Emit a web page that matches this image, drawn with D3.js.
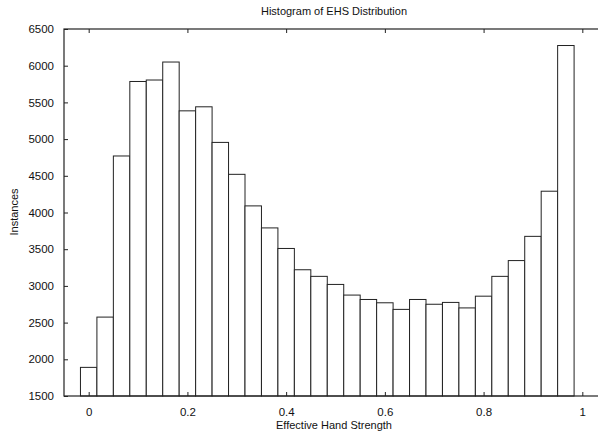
<!DOCTYPE html>
<html>
<head>
<meta charset="utf-8">
<script src="https://cdn.jsdelivr.net/npm/d3@7"></script>
<style>
  body { margin: 0; background: #fff; }
  text { font-family: "Liberation Sans", Arial, sans-serif; fill: #111; }
</style>
</head>
<body>
<div id="chart"></div>
<script>
const binCenters = d3.range(30).map(i => i / 30);
const counts = [1890, 2575, 4770, 5785, 5805, 6050, 5385, 5440, 4955, 4520,
                4090, 3790, 3510, 3220, 3130, 3020, 2875, 2815, 2770, 2680,
                2815, 2750, 2775, 2700, 2860, 3130, 3345, 3675, 4290, 6275];
const xTicks = [0, 0.2, 0.4, 0.6, 0.8, 1];
const yTicks = [1500, 2000, 2500, 3000, 3500, 4000, 4500, 5000, 5500, 6000, 6500];
const binWidth = 1 / 30;

const data = binCenters.map((c, i) => ({ c: c, n: counts[i] }));

const W = 598, H = 436;
const margin = { top: 29, right: -9, bottom: 40, left: 64 };
const width = W - margin.left - margin.right,
      height = H - margin.top - margin.bottom;

const svg = d3.select("#chart").append("svg")
    .attr("width", W)
    .attr("height", H);

const g = svg.append("g")
    .attr("transform", `translate(${margin.left},${margin.top})`);

const x = d3.scaleLinear().domain([-0.05, 1.05]).range([0, width]);
const y = d3.scaleLinear().domain([1500, 6500]).range([height, 0]);

// bars
g.selectAll("rect.bar")
    .data(data)
    .enter()
    .append("rect")
    .attr("class", "bar")
    .attr("x", d => x(d.c - binWidth / 2))
    .attr("y", d => y(d.n))
    .attr("width", d => x(d.c + binWidth / 2) - x(d.c - binWidth / 2))
    .attr("height", d => height - y(d.n))
    .style("fill", "#fff")
    .style("stroke", "#222")
    .style("stroke-width", 1);

// frame
g.append("rect")
    .attr("x", 0).attr("y", 0)
    .attr("width", width).attr("height", height)
    .style("fill", "none")
    .style("stroke", "#222")
    .style("stroke-width", 1.2);

// axes with inward ticks
g.append("g")
    .attr("transform", `translate(0,${height})`)
    .call(d3.axisBottom(x).tickValues(xTicks).tickSize(-4).tickPadding(12)
        .tickFormat(d3.format("")));
g.append("g")
    .call(d3.axisTop(x).tickValues(xTicks).tickSize(-4).tickFormat(""));
g.append("g")
    .call(d3.axisLeft(y).tickValues(yTicks).tickSize(-4).tickPadding(10)
        .tickFormat(d3.format("d")));

g.selectAll(".domain").remove();
g.selectAll(".tick line").style("stroke", "#222");
g.selectAll(".tick text")
    .style("font-size", "11.5px")
    .style("fill", "#111");

// title
svg.append("text")
    .attr("x", 334)
    .attr("y", 15)
    .attr("text-anchor", "middle")
    .style("font-size", "11px")
    .text("Histogram of EHS Distribution");

// x label
svg.append("text")
    .attr("x", 334)
    .attr("y", 429)
    .attr("text-anchor", "middle")
    .style("font-size", "11px")
    .text("Effective Hand Strength");

// y label
svg.append("text")
    .attr("transform", "rotate(-90)")
    .attr("x", -212)
    .attr("y", 18)
    .attr("text-anchor", "middle")
    .style("font-size", "11px")
    .text("Instances");
</script>
</body>
</html>
